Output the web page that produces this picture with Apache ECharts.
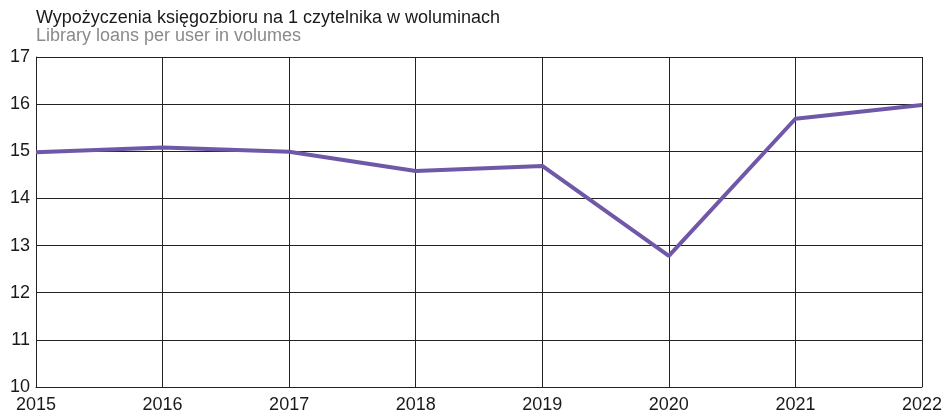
<!DOCTYPE html>
<html>
<head lang="pl">
    <meta charset="UTF-8"/>
    <title>Wypożyczenia księgozbioru</title>
    <script src="https://cdn.jsdelivr.net/npm/echarts@6/dist/echarts.min.js"></script>
    <style>
        html, body { margin: 0; padding: 0; background: #fff; }
        #main { width: 947px; height: 418px; }
    </style>
</head>
<body>
<div id="main"></div>
<script>
    // dane
    var years = ['2015', '2016', '2017', '2018', '2019', '2020', '2021', '2022'];
    var loansPerUser = [14.98, 15.08, 14.99, 14.58, 14.69, 12.78, 15.69, 15.98];
    var yMin = 10, yMax = 17;

    var myChart = echarts.init(document.getElementById('main'));
    var font = 'Liberation Sans, Arial, sans-serif';
    var option = {
        animation: false,
        backgroundColor: '#fff',
        title: {
            text: 'Wypożyczenia księgozbioru na 1 czytelnika w woluminach',
            subtext: 'Library loans per user in volumes',
            left: 29,
            top: 9,
            padding: [0, 0, 0, 7],
            itemGap: 0,
            textStyle: { fontFamily: font, fontSize: 18, fontWeight: 'normal', color: '#1a1a1a' },
            subtextStyle: { fontFamily: font, fontSize: 18, color: '#8a8a8a' }
        },
        grid: { left: 36, right: 25, top: 57, bottom: 31 },
        xAxis: {
            type: 'category',
            data: years,
            boundaryGap: false,
            axisLine: { lineStyle: { color: '#222', width: 1 } },
            axisTick: { show: false },
            axisLabel: { fontFamily: font, fontSize: 18, color: '#1a1a1a', margin: 9 },
            splitLine: { show: true, lineStyle: { color: '#222', width: 1 } }
        },
        yAxis: {
            type: 'value',
            min: yMin,
            max: yMax,
            interval: 1,
            axisLine: { show: true, lineStyle: { color: '#222', width: 1 } },
            axisTick: { show: false },
            axisLabel: { fontFamily: font, fontSize: 18, color: '#1a1a1a', margin: 6 },
            splitLine: { show: true, lineStyle: { color: '#222', width: 1 } }
        },
        series: [{
            type: 'line',
            data: loansPerUser,
            symbol: 'none',
            lineStyle: { color: '#7058a8', width: 4 }
        }]
    };
    myChart.setOption(option);
</script>
</body>
</html>
